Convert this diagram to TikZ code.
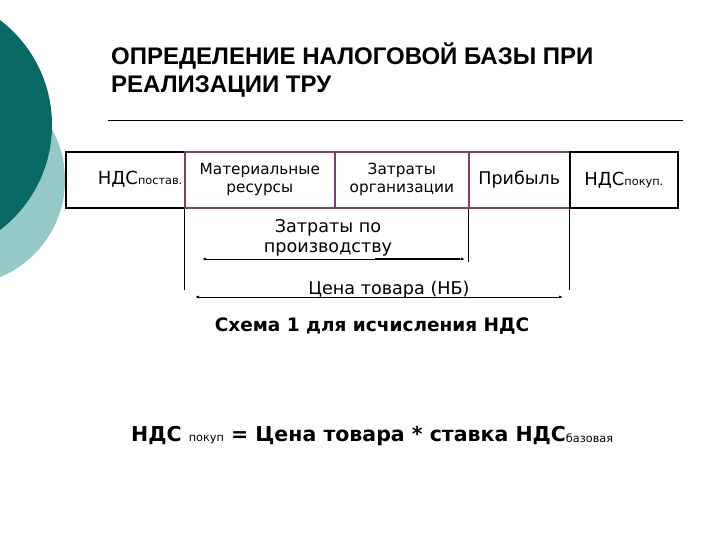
\documentclass[tikz,border=0pt]{standalone}
\usepackage{fontspec}
\setmainfont{DejaVu Sans}
\newfontfamily\titlefont{Liberation Sans}
\usetikzlibrary{arrows.meta}
\definecolor{darkteal}{RGB}{8,104,100}
\definecolor{lightteal}{RGB}{150,200,200}
\definecolor{boxpurple}{RGB}{128,62,110}
\tikzset{
  outerbox/.style={draw=black,line width=1.6pt,minimum height=56pt,inner sep=0pt,anchor=north west},
  innerbox/.style={draw=boxpurple,line width=1.6pt,minimum height=56pt,inner sep=0pt,anchor=north west,align=center},
  boxtext/.style={font=\fontsize{15.3}{18}\selectfont},
  guide/.style={draw=black,line width=0.8pt},
  dim/.style={draw=black,line width=0.8pt,{Latex[length=4pt,width=3pt]}-{Latex[length=4pt,width=3pt]}},
  lbl/.style={font=\fontsize{17.6}{20.5}\selectfont,align=center,inner sep=0pt}
}
\begin{document}
\begin{tikzpicture}[x=1pt,y=-1pt]
\useasboundingbox (0,0) rectangle (720,540);
\fill[white] (0,0) rectangle (720,540);
% decorative circles
\fill[lightteal] (-40,180) circle (105);
\fill[darkteal] (-80,125) circle (132);
% title
\node[anchor=west,inner sep=0pt,align=left,font=\titlefont\bfseries\fontsize{24}{28.5}\selectfont] (title) at (111,70)
  {ОПРЕДЕЛЕНИЕ НАЛОГОВОЙ БАЗЫ ПРИ\\РЕАЛИЗАЦИИ ТРУ};
\coordinate (rl) at (108,120);
\coordinate (rr) at (683,120);
\draw[line width=0.8pt] (rl) -- (rr);
% boxes
\node[outerbox,minimum width=119pt] (b1) at (65,151) {};
\node[anchor=east,inner sep=0pt] (t1) at (182.5,179) {\fontsize{18}{20}\selectfont НДС\fontsize{11.3}{12}\selectfont постав.};
\node[innerbox,minimum width=150pt,boxtext] (b2) at (184,151) {Материальные\\ресурсы};
\node[innerbox,minimum width=134pt,boxtext] (b3) at (334,151) {Затраты\\организации};
\node[innerbox,minimum width=101pt,font=\fontsize{17.5}{20}\selectfont] (b4) at (468,151) {Прибыль};
\node[outerbox,minimum width=108pt] (b5) at (569,151) {};
\node[inner sep=0pt] (t5) at (b5.center) {\fontsize{18}{20}\selectfont НДС\fontsize{11.3}{12}\selectfont покуп.};
% guide lines
\coordinate (g1) at (184,290);
\coordinate (g2) at (468,262);
\coordinate (g3) at (569,290);
\draw[guide] (b2.south west) -- (g1);
\draw[guide] (b4.south west) -- (g2);
\draw[guide] (b5.south west) -- (g3);
% dimension arrows
\coordinate (a1l) at (202,259);
\coordinate (a1r) at (465,259);
\draw[dim] (a1l) -- (a1r);
\coordinate (u1) at (375,258.5);
\coordinate (u2) at (460,258.5);
\draw[line width=1.6pt] (u1) -- (u2);
\coordinate (a2l) at (195,297);
\coordinate (a2r) at (563,297);
\draw[dim] (a2l) -- (a2r);
\node[lbl] (l1) at (328,238) {Затраты по\\производству};
\node[lbl] (l2) at (389,290) {Цена товара (НБ)};
% caption
\node[inner sep=0pt,font=\bfseries\fontsize{18.5}{20}\selectfont] (cap) at (372,326) {Схема 1 для исчисления НДС};
% formula
\node[anchor=west,inner sep=0pt] (f) at (131,436)
  {\bfseries\fontsize{20.5}{24}\selectfont НДС {\mdseries\fontsize{11.3}{12}\selectfont покуп} = Цена товара * ставка НДС{\mdseries\fontsize{11.3}{12}\selectfont\raisebox{-1.5pt}{базовая}}};
\end{tikzpicture}
\end{document}
